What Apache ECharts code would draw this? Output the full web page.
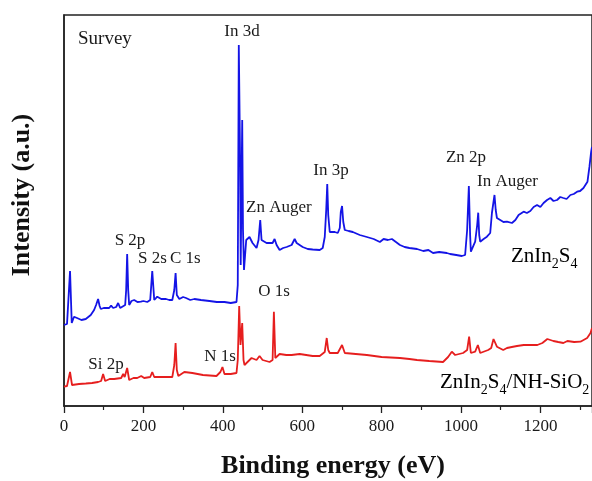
<!DOCTYPE html>
<html><head><meta charset="utf-8">
<script src="https://cdn.jsdelivr.net/npm/echarts@6/dist/echarts.min.js"></script>
<style>html,body{margin:0;padding:0;background:#fff}#c{width:592px;height:481px}</style>
</head><body><div id="c"></div>
<script>
// Binding energy (eV) and intensity (a.u.)
const blueEnergy = [0,7.6,15.2,19.5,25.3,32.8,44,54.8,67.4,75.8,80.8,85.9,89.7,92.7,100,108.6,113.7,118.7,123.8,131.4,136.4,141.5,146.5,154.1,156.6,159.1,161.7,164.2,170,176.8,185,193.7,200,209.7,217.2,222.3,227.3,234.9,245,256.9,265,272.8,277.8,281.1,284.2,290.5,300,307.4,318,328.4,345,366.3,385,404.2,420,434.5,437.7,440.3,443.3,445.1,448.9,450.9,453.4,459,467.3,474.9,485,490,494.3,497.6,510.3,525.4,530.5,535.5,543.1,552,560.8,573.4,581,586,601.2,614,626.4,644.1,651.7,656.8,660.5,663.1,665.6,669.4,682,689.6,694.7,697.2,700.4,703.5,707.3,717,727.5,745,762.9,780,795.7,805,815.9,826,836.1,846.2,858,870,889.2,905,918,929.6,945,964.2,972.5,988,1002,1010.4,1015.5,1019.8,1023,1024.9,1035.7,1040.8,1043.4,1045.9,1048.4,1057,1065.3,1073.6,1077.9,1084.4,1087.5,1090.5,1098.8,1107,1115.8,1128.4,1137,1145.1,1157.7,1166,1174.6,1183,1191.6,1199.9,1208,1216.8,1225.1,1233,1242,1250,1257.9,1266,1275.6,1284,1292.5,1300,1308.5,1318.6,1323.6,1327.9,1330];
const blueIntensity = [81,82,135,83,89.3,88,86,87,91,96,101,107,100,97,98,98,98,100.3,98,99,103,98,98,101,116,152,116,101,105,106,104,104.3,105,104,106,135,106,109.3,107,107,106,106,116,133,111,107,109,108,106,107,106,105,104,104,103,104,121,361,256,141,286,176,136,166,169,163,158,166,186,166,163,163,167,161,156,158,159,161,167,163,159,157,156.5,156,158,169,196,222,191,174,174,173,178,194,200,184,176,175,174,171,169,167,164,167,166,167,164,161,159,158,157,155,156,153,154,153,152,151,150,151,176,220,171,154.3,164.3,181,193.3,171,164.3,167,169.3,173,193,211,196,188,186,184,184.3,183,186,191,194.3,193,195,199,201,199,203,206,208,205,206,209,208,207,211,212,214.3,215,218,224.3,239.3,254.3,259];

const redEnergy = [0,7.6,15.2,20.2,37.9,55,70.7,85.9,93.5,98.5,103.6,115,126.3,144,149,152.8,159.1,164.2,175,184.4,194.5,202,217.2,222.3,227.3,240,252.6,272.8,277.8,281.1,284.2,288,303.1,323.3,350,384,394,399.1,404.2,420,434.5,437.7,441.3,444.6,448.9,452.2,454.7,459.7,472.4,485,492.6,500.2,517.8,525.4,528.7,532.3,543.1,548.1,560,573.4,593.6,610,626.4,644.1,656.8,661.8,665.6,669.4,689.6,700.4,707.3,735,762.9,800,846.2,870,889.2,920,954.8,967.5,976.8,985.2,1005.3,1015.5,1020.5,1024.9,1035.7,1042.5,1048.4,1068.5,1076.1,1081.9,1090.5,1106.4,1115.8,1128,1141,1158,1174.6,1192.3,1205,1217.5,1232.7,1245,1257.9,1268,1285,1300.9,1317.8,1326.2,1330];
const redIntensity = [19.3,20,34,21,22,22.5,23,24,25,32,25,27,27,28,32,29,38,26,28,28,30,28,29,34,29,29,29,29,41,63,36,30,34,33,31,30,34,39,32,32,33,46,100,61,83,46,41,43,48,46,50,46,44,46,94.3,48,52,52,51,51,52,51,50,50,54,68,56,53,53,61,53,52,51,49,48,47,46,45,44,49,54.3,51,53,56,69.3,53,54.3,61,53,56,58,67,59.3,56,58,59,60,61,61,61,63,67,65,64,63,65,64,64.3,68,73,78];

const xTicks = { min: 0, max: 1330, interval: 200 };

const serif = "'Liberation Serif','Times New Roman',serif";
const txt = '#1a1a1a';

function pairs(xs, ys) { return xs.map((x, i) => [x, ys[i]]); }

function label(text, x, y, size, align) {
  return { type: 'text', x: x, y: y, silent: true,
    style: { text: text, fill: txt, font: size + 'px ' + serif, align: align || 'center', verticalAlign: 'middle' } };
}

const subRich = {
  m: { fontFamily: serif, fontSize: 21, color: txt, lineHeight: 30, verticalAlign: 'middle' },
  s: { fontFamily: serif, fontSize: 14, color: txt, lineHeight: 30, verticalAlign: 'bottom' }
};

const chart = echarts.init(document.getElementById('c'), null, { renderer: 'canvas' });
chart.setOption({
  animation: false,
  backgroundColor: '#fff',
  grid: { left: 64, right: 0, top: 15, bottom: 75, show: true, borderColor: '#222', borderWidth: 1.5, backgroundColor: 'transparent' },
  xAxis: {
    type: 'value', min: xTicks.min, max: xTicks.max, interval: xTicks.interval,
    axisLine: { lineStyle: { color: '#222', width: 1.5 } },
    axisTick: { show: true, inside: false, length: 7, lineStyle: { color: '#222', width: 1.3 } },
    minorTick: { show: true, splitNumber: 2, length: 4, lineStyle: { color: '#222', width: 1.2 } },
    splitLine: { show: false }, minorSplitLine: { show: false },
    axisLabel: { fontFamily: serif, fontSize: 17, color: txt, margin: 12, showMaxLabel: false,
      formatter: function (v) { return String(v); } }
  },
  yAxis: {
    type: 'value', min: 0, max: 391,
    axisLine: { show: true, lineStyle: { color: '#222', width: 1.5 } },
    axisTick: { show: false }, axisLabel: { show: false }, splitLine: { show: false }
  },
  series: [
    { type: 'line', name: 'ZnIn2S4/NH-SiO2', data: pairs(redEnergy, redIntensity), showSymbol: false, symbol: 'none',
      lineStyle: { color: '#e61e1e', width: 1.8 }, clip: true },
    { type: 'line', name: 'ZnIn2S4', data: pairs(blueEnergy, blueIntensity), showSymbol: false, symbol: 'none',
      lineStyle: { color: '#1414e6', width: 1.8 }, clip: true }
  ],
  graphic: [
    label('Survey', 78, 39, 19, 'left'),
    label('In 3d', 242, 32, 17),
    label('Zn Auger', 246, 208, 17, 'left'),
    label('In 3p', 331, 171, 17),
    label('Zn 2p', 466, 158, 17),
    label('In Auger', 477, 182, 17, 'left'),
    label('S 2p', 130, 241, 17),
    label('S 2s', 138, 259, 17, 'left'),
    label('C 1s', 170, 259, 17, 'left'),
    label('O 1s', 274, 292, 17),
    label('N 1s', 220, 357, 17),
    label('Si 2p', 106, 365, 17),
    { type: 'text', x: 511, y: 256, silent: true,
      style: { text: '{m|ZnIn}{s|2}{m|S}{s|4}', rich: subRich, align: 'left', verticalAlign: 'middle' } },
    { type: 'text', x: 440, y: 382, silent: true,
      style: { text: '{m|ZnIn}{s|2}{m|S}{s|4}{m|/NH-SiO}{s|2}', rich: subRich, align: 'left', verticalAlign: 'middle' } },
    { type: 'text', x: 22, y: 195, rotation: Math.PI / 2, silent: true,
      style: { text: 'Intensity (a.u.)', fill: '#111', font: 'bold 26px ' + serif, align: 'center', verticalAlign: 'middle' } },
    { type: 'text', x: 333, y: 466, silent: true,
      style: { text: 'Binding energy (eV)', fill: '#111', font: 'bold 26px ' + serif, align: 'center', verticalAlign: 'middle' } }
  ]
});
</script></body></html>
